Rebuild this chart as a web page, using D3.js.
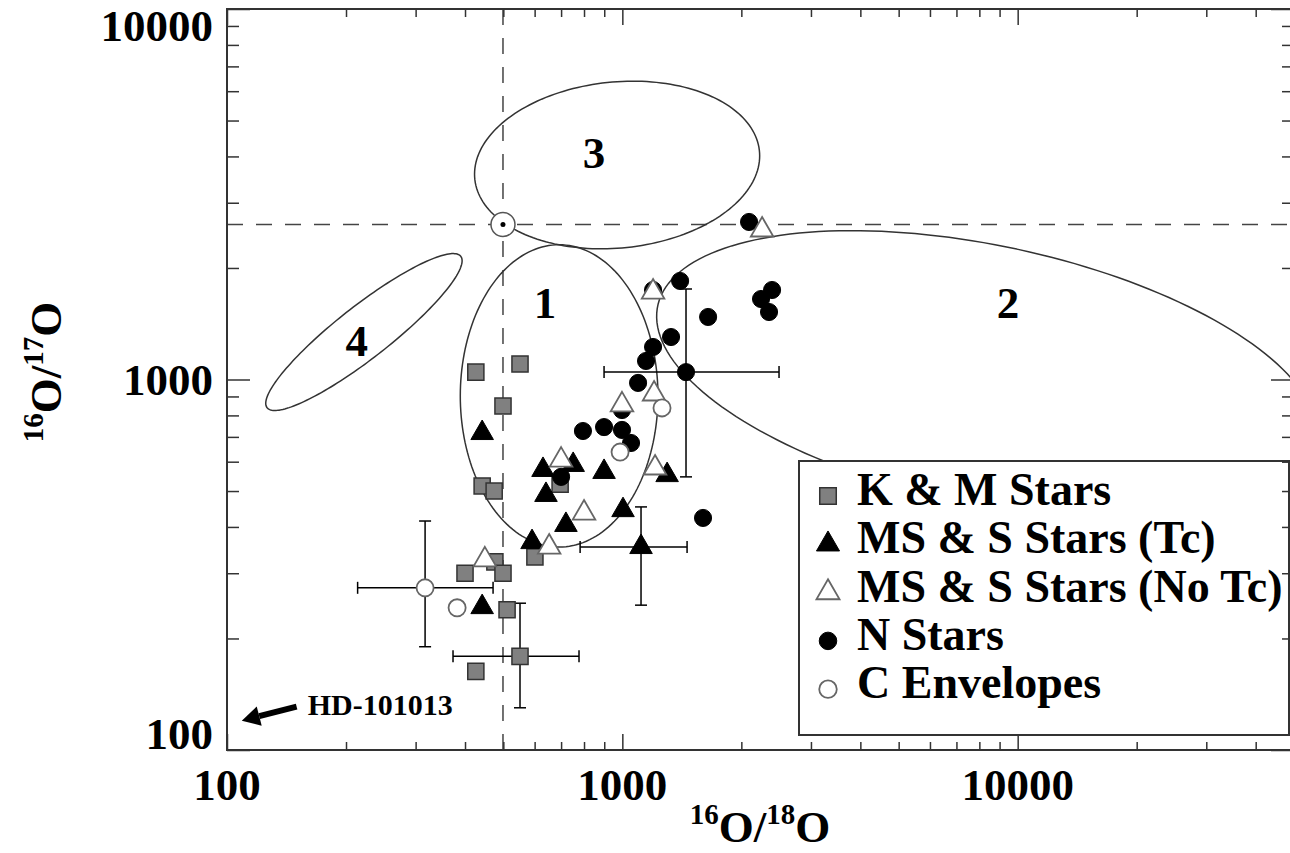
<!DOCTYPE html>
<html>
<head>
<meta charset="utf-8">
<script src="https://cdn.jsdelivr.net/npm/d3@7"></script>
<style>
  body { margin: 0; background: #fff; }
  text { font-family: "Liberation Serif", "Times New Roman", serif; font-weight: bold; fill: #000; }
</style>
</head>
<body>
<div id="chart"></div>
<script>
// [16O/18O, 16O/17O]
var kmStars = [[426,1047],[551,1101],[499,848],[442,516],[474,500],[696,522],[601,332],
               [476,322],[400,300],[499,300],[511,239],[551,179],[426,163]];
var msTc = [[442,717],[630,570],[751,588],[899,563],[641,488],[1298,552],[720,405],
            [1004,444],[591,364],[1115,353],[442,243]];
var nStars = [[2092,2662],[1400,1845],[1648,1475],[2392,1744],[2243,1649],[2350,1521],
              [1328,1302],[1196,1224],[1148,1122],[1449,1047],[1096,979],[795,726],[899,744],
              [998,731],[1052,674],[1196,1744],[998,827],[700,546],[1600,423]];
var msNoTc = [[700,606],[998,854],[1203,914],[1210,577],[800,436],[653,353],[449,326],
              [1196,1722],[2257,2532]];
var cEnvelopes = [[1260,838],[987,637],[317,274],[382,242]];

// x, y, xlo, xhi, ylo, yhi
var errorBars = [[551,179,373,777,130,249],
                 [1115,353,782,1458,246,453],
                 [1449,1047,899,2491,546,1755],
                 [317,274,214,471,190,415]];

var sun = [499, 2620];

// centre (data), semi-axes in decades, tilt in log space (deg)
var regions = [
  {name: "1", cx: 692,  cy: 903,  a: 0.250, b: 0.408, angle: 0,    lx: 637,  ly: 1619},
  {name: "2", cx: 8367, cy: 1026, a: 0.854, b: 0.349, angle: -13,  lx: 9455, ly: 1619},
  {name: "3", cx: 970,  cy: 3793, a: 0.362, b: 0.224, angle: 6.4,  lx: 848,  ly: 4113},
  {name: "4", cx: 222,  cy: 1343, a: 0.319, b: 0.069, angle: 40,   lx: 213,  ly: 1278}
];

var xLabels = [100, 1000, 10000];
var yLabels = [100, 1000, 10000];

var legendItems = [
  {label: "K & M Stars", sym: "square"},
  {label: "MS & S Stars (Tc)", sym: "tri"},
  {label: "MS & S Stars (No Tc)", sym: "opentri"},
  {label: "N Stars", sym: "dot"},
  {label: "C Envelopes", sym: "opendot"}
];

var hdArrow = {from: [150, 131], to: [109, 120], text: "HD-101013", tx: 160, ty: 124};

var w = 1290, h = 853;
var x = d3.scaleLog().domain([100, 50000]).range([227, 1294]);
var y = d3.scaleLog().domain([100, 10000]).range([750, 9]);

var svg = d3.select("#chart").append("svg")
  .attr("width", w).attr("height", h);

svg.append("rect").attr("width", w).attr("height", h).attr("fill", "#fff");

svg.append("clipPath").attr("id", "plotclip")
  .append("rect")
  .attr("x", x(100)).attr("y", y(10000))
  .attr("width", x(50000) - x(100)).attr("height", y(100) - y(10000));

var plot = svg.append("g").attr("clip-path", "url(#plotclip)");

// solar reference lines
plot.append("line")
  .attr("x1", x(sun[0])).attr("x2", x(sun[0]))
  .attr("y1", y(10000)).attr("y2", y(100))
  .attr("stroke", "#444").attr("stroke-width", 1.5).attr("stroke-dasharray", "16,13");
plot.append("line")
  .attr("x1", x(100)).attr("x2", x(50000))
  .attr("y1", y(sun[1])).attr("y2", y(sun[1]))
  .attr("stroke", "#444").attr("stroke-width", 1.5).attr("stroke-dasharray", "16,13");

// regions
var ellipseLine = d3.line().curve(d3.curveLinearClosed);
regions.forEach(function(r) {
  var phi = r.angle * Math.PI / 180;
  var pts = d3.range(0, 360, 2).map(function(deg) {
    var t = deg * Math.PI / 180;
    var lx = Math.log10(r.cx) + r.a * Math.cos(t) * Math.cos(phi) - r.b * Math.sin(t) * Math.sin(phi);
    var ly = Math.log10(r.cy) + r.a * Math.cos(t) * Math.sin(phi) + r.b * Math.sin(t) * Math.cos(phi);
    return [x(Math.pow(10, lx)), y(Math.pow(10, ly))];
  });
  plot.append("path")
    .attr("d", ellipseLine(pts))
    .attr("fill", "none")
    .attr("stroke", "#333")
    .attr("stroke-width", 1.5);
});

plot.selectAll("text.region")
  .data(regions)
  .enter()
  .append("text")
  .attr("class", "region")
  .attr("x", function(d) { return x(d.lx); })
  .attr("y", function(d) { return y(d.ly); })
  .attr("dy", "0.35em")
  .attr("text-anchor", "middle")
  .attr("font-size", "45px")
  .text(function(d) { return d.name; });

// error bars
var cap = 6;
errorBars.forEach(function(e) {
  var g = plot.append("g").attr("stroke", "#000").attr("stroke-width", 1.5);
  g.append("line").attr("x1", x(e[2])).attr("x2", x(e[3])).attr("y1", y(e[1])).attr("y2", y(e[1]));
  g.append("line").attr("x1", x(e[2])).attr("x2", x(e[2])).attr("y1", y(e[1]) - cap).attr("y2", y(e[1]) + cap);
  g.append("line").attr("x1", x(e[3])).attr("x2", x(e[3])).attr("y1", y(e[1]) - cap).attr("y2", y(e[1]) + cap);
  g.append("line").attr("x1", x(e[0])).attr("x2", x(e[0])).attr("y1", y(e[4])).attr("y2", y(e[5]));
  g.append("line").attr("x1", x(e[0]) - cap).attr("x2", x(e[0]) + cap).attr("y1", y(e[4])).attr("y2", y(e[4]));
  g.append("line").attr("x1", x(e[0]) - cap).attr("x2", x(e[0]) + cap).attr("y1", y(e[5])).attr("y2", y(e[5]));
});

var styles = {
  square:  {type: d3.symbolSquare,   size: 260, fill: "#808080", stroke: "#333", sw: 1.5},
  tri:     {type: d3.symbolTriangle, size: 220, fill: "#000",    stroke: "#000", sw: 1},
  opentri: {type: d3.symbolTriangle, size: 220, fill: "#fff",    stroke: "#666", sw: 1.8},
  dot:     {type: d3.symbolCircle,   size: 230, fill: "#000",    stroke: "#000", sw: 1},
  opendot: {type: d3.symbolCircle,   size: 230, fill: "#fff",    stroke: "#666", sw: 1.8}
};

function drawSeries(data, key) {
  var s = styles[key];
  plot.append("g").selectAll("path")
    .data(data)
    .enter()
    .append("path")
    .attr("transform", function(d) { return "translate(" + x(d[0]) + "," + y(d[1]) + ")"; })
    .attr("d", d3.symbol().type(s.type).size(s.size))
    .attr("fill", s.fill)
    .attr("stroke", s.stroke)
    .attr("stroke-width", s.sw);
}

drawSeries(kmStars, "square");
drawSeries(msTc, "tri");
drawSeries(nStars, "dot");
drawSeries(msNoTc, "opentri");
drawSeries(cEnvelopes, "opendot");

// the Sun
plot.append("circle").attr("cx", x(sun[0])).attr("cy", y(sun[1])).attr("r", 12)
  .attr("fill", "#fff").attr("stroke", "#555").attr("stroke-width", 1.5);
plot.append("circle").attr("cx", x(sun[0])).attr("cy", y(sun[1])).attr("r", 2.5)
  .attr("fill", "#000");

// HD-101013 arrow
var ax0 = x(hdArrow.from[0]), ay0 = y(hdArrow.from[1]);
var ax1 = x(hdArrow.to[0]), ay1 = y(hdArrow.to[1]);
var ang = Math.atan2(ay1 - ay0, ax1 - ax0);
var headLen = 18, headW = 10;
var bx = ax1 - headLen * Math.cos(ang), by = ay1 - headLen * Math.sin(ang);
svg.append("line")
  .attr("x1", ax0).attr("y1", ay0).attr("x2", bx).attr("y2", by)
  .attr("stroke", "#000").attr("stroke-width", 6);
svg.append("path")
  .attr("d", "M" + ax1 + "," + ay1 +
             "L" + (bx + headW * Math.sin(ang)) + "," + (by - headW * Math.cos(ang)) +
             "L" + (bx - headW * Math.sin(ang)) + "," + (by + headW * Math.cos(ang)) + "Z")
  .attr("fill", "#000");
svg.append("text")
  .attr("x", x(hdArrow.tx)).attr("y", y(hdArrow.ty))
  .attr("font-size", "30px")
  .text(hdArrow.text);

// legend
var lg = svg.append("g").attr("transform", "translate(799,461)");
lg.append("rect").attr("width", 490).attr("height", 274)
  .attr("fill", "#fff").attr("stroke", "#333").attr("stroke-width", 2);
legendItems.forEach(function(d, i) {
  var s = styles[d.sym];
  var by = 44 + i * 48.3;
  lg.append("path")
    .attr("transform", "translate(29," + (by - 9) + ")")
    .attr("d", d3.symbol().type(s.type).size(s.size * 1.05))
    .attr("fill", s.fill).attr("stroke", s.stroke).attr("stroke-width", s.sw);
  lg.append("text")
    .attr("x", 58).attr("y", by)
    .attr("font-size", "46px")
    .text(d.label);
});

// axes frame and ticks
var axes = svg.append("g").attr("stroke", "#333").attr("stroke-width", 2).attr("fill", "none");
axes.append("rect")
  .attr("x", x(100)).attr("y", y(10000))
  .attr("width", x(50000) - x(100)).attr("height", y(100) - y(10000));

function isMajor(v) { return Math.abs(Math.log10(v) - Math.round(Math.log10(v))) < 1e-9; }

svg.append("g").attr("transform", "translate(0," + y(100) + ")")
  .call(d3.axisBottom(x).tickValues(x.ticks()).tickFormat("").tickSizeOuter(0)
        .tickSizeInner(0))
  .call(function(g) {
    g.select(".domain").remove();
    g.selectAll(".tick line")
      .attr("y2", function(d) { return isMajor(d) ? -16 : -8; })
      .attr("stroke", "#333").attr("stroke-width", 1.5);
  });
svg.append("g").attr("transform", "translate(0," + y(10000) + ")")
  .call(d3.axisTop(x).tickValues(x.ticks()).tickFormat("").tickSizeOuter(0).tickSizeInner(0))
  .call(function(g) {
    g.select(".domain").remove();
    g.selectAll(".tick line")
      .attr("y2", function(d) { return isMajor(d) ? 16 : 8; })
      .attr("stroke", "#333").attr("stroke-width", 1.5);
  });
svg.append("g").attr("transform", "translate(" + x(100) + ",0)")
  .call(d3.axisLeft(y).tickValues(y.ticks()).tickFormat("").tickSizeOuter(0).tickSizeInner(0))
  .call(function(g) {
    g.select(".domain").remove();
    g.selectAll(".tick line")
      .attr("x2", function(d) { return isMajor(d) ? 23 : 12; })
      .attr("stroke", "#333").attr("stroke-width", 1.5);
  });
svg.append("g").attr("transform", "translate(" + x(50000) + ",0)")
  .call(d3.axisRight(y).tickValues(y.ticks()).tickFormat("").tickSizeOuter(0).tickSizeInner(0))
  .call(function(g) {
    g.select(".domain").remove();
    g.selectAll(".tick line")
      .attr("x2", function(d) { return isMajor(d) ? -23 : -12; })
      .attr("stroke", "#333").attr("stroke-width", 1.5);
  });

// tick labels
svg.selectAll("text.xlab")
  .data(xLabels)
  .enter()
  .append("text")
  .attr("class", "xlab")
  .attr("x", function(d) { return x(d); })
  .attr("y", 800)
  .attr("text-anchor", "middle")
  .attr("font-size", "45px")
  .text(function(d) { return d; });

svg.selectAll("text.ylab")
  .data(yLabels)
  .enter()
  .append("text")
  .attr("class", "ylab")
  .attr("x", x(100) - 14)
  .attr("y", function(d, i) {
    // bottom label sits on the axis, top label hangs below it
    if (i === 0) return y(d) - 1;
    if (i === yLabels.length - 1) return y(d) + 32;
    return y(d) + 15;
  })
  .attr("text-anchor", "end")
  .attr("font-size", "45px")
  .text(function(d) { return d; });

// axis titles
function isoTitle(sel, a, b) {
  sel.append("tspan").attr("font-size", "29px").attr("dy", -18).text(a);
  sel.append("tspan").attr("font-size", "45px").attr("dy", 18).text("O/");
  sel.append("tspan").attr("font-size", "29px").attr("dy", -18).text(b);
  sel.append("tspan").attr("font-size", "45px").attr("dy", 18).text("O");
}
var xt = svg.append("text").attr("x", 760).attr("y", 842).attr("text-anchor", "middle");
isoTitle(xt, "16", "18");
var yt = svg.append("text").attr("transform", "translate(61,372) rotate(-90)").attr("text-anchor", "middle");
isoTitle(yt, "16", "17");
</script>
</body>
</html>
